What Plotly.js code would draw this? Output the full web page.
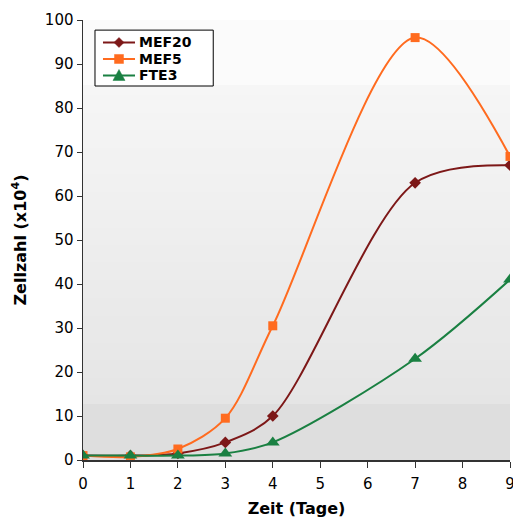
<!DOCTYPE html>
<html><head><meta charset="utf-8">
<script src="https://cdn.plot.ly/plotly-3.0.1.min.js"></script>
<style>html,body{margin:0;padding:0;background:#fff}#chart{width:513px;height:518px}</style>
</head><body><div id="chart"></div>
<script>
const days = [0, 1, 2, 3, 4, 7, 9];
const mef20 = [1, 1, 1.5, 4, 10, 63, 67];
const mef5 = [1, 0.7, 2.5, 9.5, 30.5, 96, 69];
const fte3 = [1, 1, 1, 1.5, 4, 23, 41];
const xTicks = [0,1,2,3,4,5,6,7,8,9];
const yTicks = [0,10,20,30,40,50,60,70,80,90,100];
const seriesNames = ['MEF20','MEF5','FTE3'];
const seriesColors = ['#7d1818','#ff6b1f','#1a8042'];

// background gradient bands
const shapes = [];
function grey(v){return 'rgb('+v+','+v+','+v+')';}
shapes.push({type:'rect',xref:'x domain',yref:'y domain',x0:0,x1:1,y0:0.85,y1:1,fillcolor:grey(251),line:{width:0},layer:'below'});
const N=36;
for(let i=0;i<N;i++){
  const a=0.127+(0.85-0.127)*i/N, b=0.127+(0.85-0.127)*(i+1)/N;
  const v=Math.round(229+(246-229)*(i+0.5)/N);
  shapes.push({type:'rect',xref:'x domain',yref:'y domain',x0:0,x1:1,y0:a,y1:b+0.002,fillcolor:grey(v),line:{width:0},layer:'below'});
}
shapes.push({type:'rect',xref:'x domain',yref:'y domain',x0:0,x1:1,y0:0,y1:0.127,fillcolor:grey(222),line:{width:0},layer:'below'});

// custom compact legend (box, sample lines, symbols, labels)
const annotations = [];
shapes.push({type:'rect',xref:'paper',yref:'paper',x0:0.0281,x1:0.305,y0:0.85,y1:0.977,fillcolor:'#fff',line:{color:'#000',width:1},layer:'above'});
const rowY = [0.9489, 0.9114, 0.8739];
const symPaths = [
  'M 0,-5 L 5,0 L 0,5 L -5,0 Z',
  'M -4.5,-4.5 L 4.5,-4.5 L 4.5,4.5 L -4.5,4.5 Z',
  'M -6,-5 L 6,-5 L 0,6 Z'
];
for(let i=0;i<3;i++){
  shapes.push({type:'line',xref:'paper',yref:'paper',x0:0.0468,x1:0.1218,y0:rowY[i],y1:rowY[i],line:{color:seriesColors[i],width:2},layer:'above'});
  shapes.push({type:'path',xref:'paper',yref:'paper',xsizemode:'pixel',ysizemode:'pixel',xanchor:0.0843,yanchor:rowY[i],
    path:symPaths[i],fillcolor:seriesColors[i],line:{color:seriesColors[i],width:0.5},layer:'above'});
  annotations.push({xref:'paper',yref:'paper',x:0.129,y:rowY[i],xanchor:'left',yanchor:'middle',showarrow:false,borderpad:0,
    text:'<b>'+seriesNames[i]+'</b>',font:{size:14,family:'DejaVu Sans, Verdana, sans-serif',color:'#000'}});
}

const traces = [
 {x:days,y:mef20,name:seriesNames[0],mode:'lines+markers',line:{color:seriesColors[0],width:2,shape:'spline',smoothing:0.9},marker:{symbol:'diamond',size:9,color:seriesColors[0]}},
 {x:days,y:mef5,name:seriesNames[1],mode:'lines+markers',line:{color:seriesColors[1],width:2,shape:'spline',smoothing:0.9},marker:{symbol:'square',size:9,color:seriesColors[1]}},
 {x:days,y:fte3,name:seriesNames[2],mode:'lines+markers',line:{color:seriesColors[2],width:2,shape:'spline',smoothing:0.9},marker:{symbol:'triangle-up',size:12,color:seriesColors[2]}}
];
const layout = {
 width:513,height:518,
 margin:{l:83,r:3,t:20,b:58},
 paper_bgcolor:'#fff',plot_bgcolor:'rgba(0,0,0,0)',
 font:{family:'DejaVu Sans, Verdana, sans-serif',size:15,color:'#000'},
 showlegend:false,
 xaxis:{range:[0,9],tickvals:xTicks,ticktext:xTicks.map(String),showgrid:false,zeroline:false,
   showline:true,linecolor:'#333',linewidth:1.5,ticks:'outside',ticklen:6,tickcolor:'#333',ticklabeloverflow:'allow',ticklabelstandoff:3,
   title:{text:'<b>Zeit (Tage)</b>',font:{size:16},standoff:18},fixedrange:true},
 yaxis:{range:[0,100],tickvals:yTicks,ticktext:yTicks.map(String),showgrid:false,zeroline:false,
   showline:true,linecolor:'#333',linewidth:1.5,ticks:'outside',ticklen:5,tickcolor:'#333',
   title:{text:'<b>Zellzahl (x10<sup>4</sup>)</b>',font:{size:16},standoff:14},fixedrange:true},
 shapes:shapes,
 annotations:annotations
};
Plotly.newPlot('chart',traces,layout,{displayModeBar:false,staticPlot:true});
</script></body></html>
